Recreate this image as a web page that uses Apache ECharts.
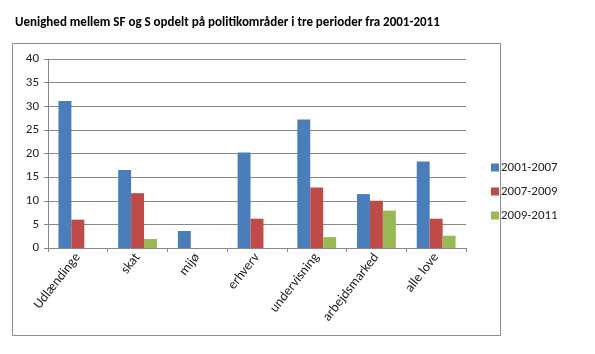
<!DOCTYPE html>
<html><head><meta charset="utf-8">
<script src="https://cdn.jsdelivr.net/npm/echarts@6/dist/echarts.min.js"></script>
<style>html,body{margin:0;padding:0;background:#fff}#c{width:595px;height:354px}</style>
</head><body><div id="c"></div>
<script>
const titleText = 'Uenighed mellem SF og S opdelt på politikområder i tre perioder fra 2001-2011';
const categories = ['Udlændinge','skat','mijø','erhverv','undervisning','arbejdsmarked','alle love'];
const seriesNames = ['2001-2007','2007-2009','2009-2011'];
const s2001_2007 = [31.1, 16.5, 3.6, 20.2, 27.2, 11.4, 18.3];
const s2007_2009 = [6.0, 11.6, 0, 6.2, 12.8, 10.0, 6.2];
const s2009_2011 = [0, 1.9, 0, 0, 2.3, 7.9, 2.6];
const yTicks = [0,5,10,15,20,25,30,35,40];
const colors = ['#4A7EBB','#BE4B48','#98B954'];

const chart = echarts.init(document.getElementById('c'), null, {renderer:'canvas'});
const font = 'Carlito, "Liberation Sans", "Open Sans", sans-serif';
chart.setOption({
  animation:false,
  textStyle:{fontFamily:font},
  title:{text:titleText,left:10,top:11,textStyle:{fontSize:13,fontWeight:'bold',color:'#000',fontFamily:font}},
  graphic:[{type:'rect',shape:{x:12.5,y:43.5,width:488,height:292},style:{fill:'none',stroke:'#8c8c8c',lineWidth:1},silent:true}],
  legend:{orient:'vertical',left:486,top:156,itemWidth:8,itemHeight:8,itemGap:11,icon:'rect',
    textStyle:{fontSize:13,color:'#222',fontFamily:font,padding:[0,0,0,-3]},data:seriesNames},
  grid:{left:48,right:129,top:59,bottom:106,containLabel:false},
  xAxis:{type:'category',data:categories,
    axisLine:{lineStyle:{color:'#868686'}},
    axisTick:{show:true,alignWithLabel:false,length:4,lineStyle:{color:'#868686'}},
    axisLabel:{rotate:52,fontSize:13.5,color:'#222',margin:7,interval:0,fontFamily:font}},
  yAxis:{type:'value',min:0,max:40,interval:5,
    axisLine:{show:true,lineStyle:{color:'#868686'}},
    axisTick:{show:true,length:4,lineStyle:{color:'#868686'}},
    splitLine:{lineStyle:{color:'#868686'}},
    axisLabel:{fontSize:13,color:'#222',margin:9,fontFamily:font,
      formatter:v=>yTicks.includes(v)?String(v):''}},
  series:[
    {name:seriesNames[0],type:'bar',data:s2001_2007,itemStyle:{color:colors[0]},barGap:'0%',barCategoryGap:'35%'},
    {name:seriesNames[1],type:'bar',data:s2007_2009,itemStyle:{color:colors[1]},barGap:'0%',barCategoryGap:'35%'},
    {name:seriesNames[2],type:'bar',data:s2009_2011,itemStyle:{color:colors[2]},barGap:'0%',barCategoryGap:'35%'}
  ]
});
</script></body></html>
